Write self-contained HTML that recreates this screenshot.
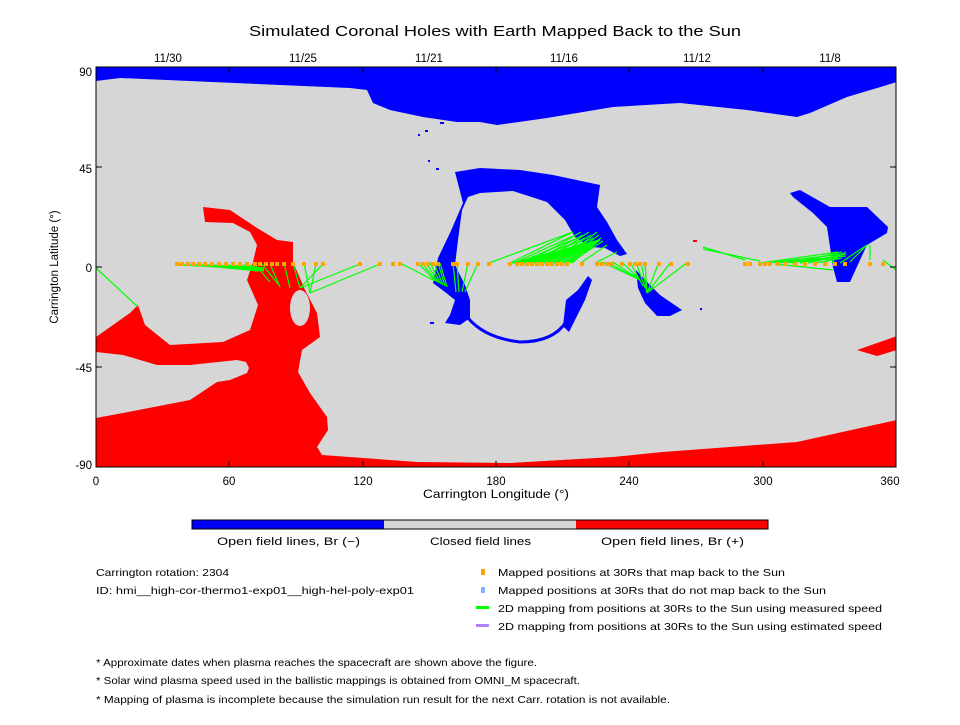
<!DOCTYPE html>
<html><head><meta charset="utf-8"><style>
body{margin:0;background:#fff;}
svg text{font-family:"Liberation Sans",sans-serif;fill:#000;}
</style></head><body>
<svg id="s" width="960" height="720" viewBox="0 0 960 720" xmlns="http://www.w3.org/2000/svg">
<rect width="960" height="720" fill="#fff"/>
<text x="249" y="36" font-size="15" textLength="492" lengthAdjust="spacingAndGlyphs">Simulated Coronal Holes with Earth Mapped Back to the Sun</text>
<g font-size="11.5" text-anchor="middle">
<text x="168" y="62">11/30</text><text x="303" y="62">11/25</text><text x="429" y="62">11/21</text><text x="564" y="62">11/16</text><text x="697" y="62">11/12</text><text x="830" y="62">11/8</text>
<text x="96" y="485">0</text><text x="229" y="485">60</text><text x="363" y="485">120</text><text x="496" y="485">180</text><text x="629" y="485">240</text><text x="763" y="485">300</text><text x="890" y="485">360</text>
</g>
<text x="423" y="498" font-size="11.5" textLength="146" lengthAdjust="spacingAndGlyphs">Carrington Longitude (°)</text>
<g font-size="11.5" text-anchor="end">
<text x="92" y="76">90</text><text x="92" y="173">45</text><text x="92" y="272">0</text><text x="92" y="372">-45</text><text x="92" y="469">-90</text>
</g>
<text transform="translate(58,267) rotate(-90)" font-size="11.5" text-anchor="middle">Carrington Latitude (°)</text>
<defs><clipPath id="c"><rect x="96" y="67" width="800" height="400"/></clipPath></defs>
<g clip-path="url(#c)">
<rect x="96" y="67" width="800" height="400" fill="#d6d6d6"/>
<path fill="#0000ff" d="M96,67 L896,67 L897,82 L847,97 L810,113 L797,117 L747,110 L680,103 L613,107 L547,118 L497,125 L480,122 L457,122 L423,117 L390,110 L373,103 L367,90 L350,88 L120,78 L96,81Z"/>
<path fill="#ff0000" d="M96,337 L130,313 L138,305 L145,325 L170,345 L223,342 L250,330 L258,305 L247,280 L253,262 L257,245 L250,232 L233,223 L205,222 L203,207 L230,210 L257,228 L277,240 L293,242 L293,262 L305,290 L317,313 L320,337 L302,350 L298,372 L310,393 L327,417 L328,430 L317,447 L322,455 L417,462 L510,463 L613,457 L663,452 L797,442 L897,420 L897,468 L96,468Z"/>
<path fill="#d6d6d6" d="M96,352 L123,355 L157,365 L190,365 L237,360 L246,362 L249,368 L247,373 L230,380 L217,382 L190,400 L123,413 L96,418Z"/>
<ellipse cx="300" cy="308" rx="10" ry="18" fill="#d6d6d6"/>
<path fill="#ff0000" d="M857,350 L880,342 L897,336 L897,350 L877,356Z"/>
<rect x="693" y="240" width="4" height="2" fill="#f00"/>
<path fill="#0000ff" d="M455,172 L480,168 L520,170 L553,175 L600,185 L597,207 L607,222 L617,240 L627,254 L620,256 L605,248 L590,247 L575,237 L565,220 L547,202 L513,191 L480,193 L468,197 L462,210 L458,240 L455,265 L465,285 L470,300 L470,318 L460,325 L445,323 L450,315 L455,300 L445,292 L433,283 L438,258 L450,233 L463,203Z"/>
<path fill="none" stroke="#0000ff" stroke-width="3" d="M468,318 Q485,338 520,342 Q553,342 566,322"/>
<path fill="#0000ff" d="M563,326 L566,300 L578,290 L588,276 L592,280 L585,300 L575,320 L569,332Z"/>
<path fill="#0000ff" d="M636,270 L645,280 L660,295 L682,310 L670,316 L657,316 L645,303 L638,288Z"/>
<path fill="#0000ff" d="M790,193 L800,190 L830,207 L867,207 L888,227 L887,233 L867,245 L860,260 L850,282 L837,282 L833,267 L830,247 L827,227 L813,213 L793,197Z"/>
<g fill="#00f"><rect x="418" y="134" width="2" height="2"/><rect x="425" y="130" width="3" height="2"/><rect x="440" y="122" width="4" height="2"/><rect x="428" y="160" width="2" height="2"/><rect x="436" y="168" width="3" height="2"/><rect x="430" y="322" width="4" height="2"/><rect x="700" y="308" width="2" height="2"/></g>
<g id="gl" stroke="#00ff00" stroke-width="1.2"></g>
<g id="mk" fill="#ffa500"></g>
</g>
<rect x="96" y="67" width="800" height="400" fill="none" stroke="#000" stroke-width="1"/>
<g id="tk" stroke="#000" stroke-width="1"></g>
<rect x="192" y="520" width="192" height="9" fill="#0000ff"/>
<rect x="384" y="520" width="192" height="9" fill="#d6d6d6"/>
<rect x="576" y="520" width="192" height="9" fill="#ff0000"/>
<rect x="192" y="520" width="576" height="9" fill="none" stroke="#000"/>
<g font-size="11" lengthAdjust="spacingAndGlyphs">
<text x="217" y="545" textLength="143" lengthAdjust="spacingAndGlyphs">Open field lines, Br (−)</text>
<text x="430" y="545" textLength="101" lengthAdjust="spacingAndGlyphs">Closed field lines</text>
<text x="601" y="545" textLength="143" lengthAdjust="spacingAndGlyphs">Open field lines, Br (+)</text>
</g>
<g font-size="10.5">
<text x="96" y="576" textLength="133" lengthAdjust="spacingAndGlyphs">Carrington rotation: 2304</text>
<text x="96" y="594" textLength="318" lengthAdjust="spacingAndGlyphs">ID: hmi__high-cor-thermo1-exp01__high-hel-poly-exp01</text>
<text x="498" y="576" textLength="287" lengthAdjust="spacingAndGlyphs">Mapped positions at 30Rs that map back to the Sun</text>
<text x="498" y="594" textLength="328" lengthAdjust="spacingAndGlyphs">Mapped positions at 30Rs that do not map back to the Sun</text>
<text x="498" y="612" textLength="384" lengthAdjust="spacingAndGlyphs">2D mapping from positions at 30Rs to the Sun using measured speed</text>
<text x="498" y="630" textLength="384" lengthAdjust="spacingAndGlyphs">2D mapping from positions at 30Rs to the Sun using estimated speed</text>
<text x="96" y="666" textLength="441" lengthAdjust="spacingAndGlyphs">* Approximate dates when plasma reaches the spacecraft are shown above the figure.</text>
<text x="96" y="684" textLength="484" lengthAdjust="spacingAndGlyphs">* Solar wind plasma speed used in the ballistic mappings is obtained from OMNI_M spacecraft.</text>
<text x="96" y="703" textLength="574" lengthAdjust="spacingAndGlyphs">* Mapping of plasma is incomplete because the simulation run result for the next Carr. rotation is not available.</text>
</g>
<rect x="481" y="569" width="4" height="6" fill="#ffa500"/>
<rect x="481" y="587" width="4" height="6" fill="#80b8ff"/>
<rect x="476" y="606" width="13" height="3" fill="#00ff00"/>
<rect x="476" y="624" width="13" height="3" fill="#b080ff"/>
<script>
var NS="http://www.w3.org/2000/svg";
function el(p,t,a){var e=document.createElementNS(NS,t);for(var k in a)e.setAttribute(k,a[k]);document.getElementById(p).appendChild(e);}
var tk=[96,229,363,496,629,763,896];
tk.forEach(function(x){el("tk","line",{x1:x,y1:467,x2:x,y2:461});el("tk","line",{x1:x,y1:67,x2:x,y2:73});});
[67,167,267,367,467].forEach(function(y){el("tk","line",{x1:96,y1:y,x2:102,y2:y});el("tk","line",{x1:896,y1:y,x2:890,y2:y});});
var L=[[96,268,138,307]];
[177,185,190,196,202,207,212,218,224,231,237,243,249].forEach(function(x,i){L.push([x,265,258+i%3*3,268+i%4]);});
[[255,264,270,282],[262,264,278,284],[270,264,280,287],[284,263,290,288],[293,263,300,288],[304,263,310,293],[316,264,310,293],[323,264,300,288],[360,264,300,288],[380,264,310,293]].forEach(function(a){L.push(a);});
[400,418,422,426,430,434,438,440].forEach(function(x,i){L.push([x,263,433+i*2,280+i]);});
[453,457,468,478].forEach(function(x,i){L.push([x,263,456+i*3,292]);});
L.push([489,263,573,232]);
for(var i=0;i<16;i++){var x=510+i*4;L.push([x,263,573+i*2,232+i%4*3]);L.push([x+2,263,600,240]);}
[[582,262,607,245],[597,262,617,252],[602,262,640,280],[607,262,640,280],[613,262,640,280],[622,262,640,280],[630,262,643,286],[636,262,645,288],[641,262,647,293],[645,262,647,293],[659,262,647,293],[671,262,647,293],[688,262,647,293],[703,247,745,260],[703,249,760,261],[775,264,833,270]].forEach(function(a){L.push(a);});
for(var i=0;i<10;i++){L.push([760+i*8,263,838+i%3*4,252+i%4*2]);}
[[840,263,867,245],[850,262,867,245],[870,260,870,245],[883,260,896,270]].forEach(function(a){L.push(a);});
L.forEach(function(a){el("gl","line",{x1:a[0],y1:a[1],x2:a[2],y2:a[3]});});
var M=[177,182,188,193,199,205,212,219,226,233,240,247,255,260,266,272,277,284,293,304,316,323,360,380,393,400,418,423,428,433,438,453,457,468,478,489,510,517,522,527,532,537,542,547,552,557,562,567,582,597,602,607,612,622,630,635,640,645,659,671,688,745,750,760,765,770,778,785,795,805,815,825,835,845,870,883];
M.forEach(function(x){el("mk","rect",{x:x-2,y:262,width:4,height:4});});
</script>
</svg>
</body></html>
